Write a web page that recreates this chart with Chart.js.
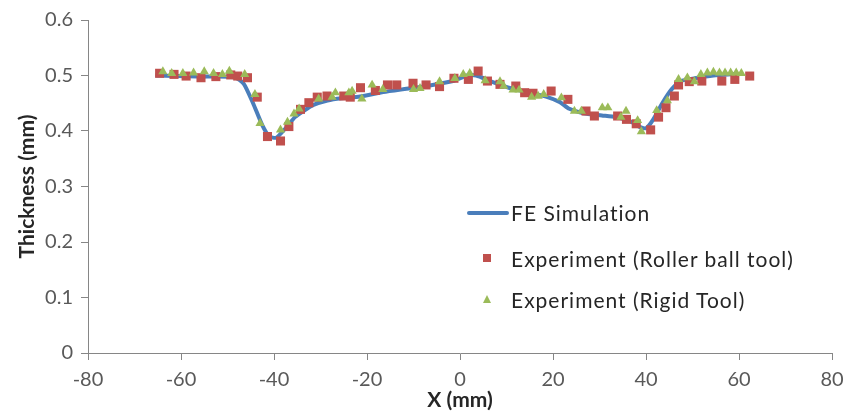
<!DOCTYPE html>
<html>
<head>
<meta charset="utf-8">
<script src="https://cdn.jsdelivr.net/npm/chart.js@4.4.1/dist/chart.umd.min.js"></script>
<style>
  body { margin: 0; background: #fff; }
  .wrap { position: relative; width: 859px; height: 415px; }
  .legend { position: absolute; left: 0; top: 0; font-family: Lato, sans-serif; font-size: 21px; line-height: 24px; letter-spacing: 1px; color: #262626; }
  .legend .item { position: absolute; white-space: nowrap; }
  .legend .line { position: absolute; left: 467px; top: 211px; width: 42px; height: 4px; background: #4a7ebb; border-radius: 2px; }
  .legend .sq { position: absolute; left: 483px; top: 254px; width: 8px; height: 8px; background: #c0504d; }
  .legend .tri { position: absolute; left: 483px; top: 295px; width: 0; height: 0;
    border-left: 4px solid transparent; border-right: 4px solid transparent; border-bottom: 8px solid #9bbb59; }
</style>
</head>
<body>
<div class="wrap">
  <canvas id="chartjs" width="859" height="415"></canvas>
  <div class="legend">
    <div class="line"></div>
    <div class="item" style="left:511px; top:201px;">FE Simulation</div>
    <div class="sq"></div>
    <div class="item" style="left:511px; top:247px;">Experiment (Roller ball tool)</div>
    <div class="tri"></div>
    <div class="item" style="left:511px; top:288px;">Experiment (Rigid Tool)</div>
  </div>
</div>
<script>
  // FE simulation curve
  let fe_x = [-65.5, -56.5, -48.5, -46.5, -44.5, -42.5, -41, -39.5, -37.5, -35.5, -33.5, -31.5, -28.5, -25.5, -21.5, -16.5, -11.5, -6.5, -1.5, 1.5, 3.5, 6.5, 10.5, 14.5, 18.5, 21.5, 23.5, 26.5, 30.5, 33.5, 36.5, 38.5, 40, 41.5, 43.5, 45.5, 47.5, 50.5, 54.5, 59.5];
  let fe_y = [0.500, 0.498, 0.497, 0.485, 0.450, 0.410, 0.390, 0.388, 0.405, 0.425, 0.437, 0.447, 0.455, 0.459, 0.462, 0.470, 0.476, 0.482, 0.490, 0.500, 0.500, 0.490, 0.478, 0.470, 0.462, 0.452, 0.440, 0.432, 0.428, 0.425, 0.418, 0.408, 0.405, 0.420, 0.450, 0.475, 0.490, 0.495, 0.500, 0.503];

  // Experiment (Roller ball tool)
  let roller_x = [-64.6, -61.5, -58.9, -55.7, -52.5, -49.3, -47.8, -45.7, -43.6, -41.4, -38.6, -36.8, -34.3, -32.5, -30.7, -28.6, -25.0, -23.6, -21.4, -18.2, -15.6, -13.6, -10.1, -7.3, -4.4, -1.3, 1.8, 3.9, 5.9, 8.6, 12.0, 13.9, 15.7, 19.6, 23.2, 27.1, 28.9, 33.9, 35.8, 37.9, 41.0, 42.7, 44.3, 46.1, 47.0, 49.3, 52.0, 56.3, 59.1, 62.3];
  let roller_y = [0.504, 0.502, 0.499, 0.496, 0.498, 0.501, 0.499, 0.496, 0.461, 0.390, 0.382, 0.408, 0.439, 0.451, 0.461, 0.463, 0.463, 0.461, 0.478, 0.473, 0.483, 0.483, 0.486, 0.483, 0.480, 0.495, 0.493, 0.508, 0.490, 0.484, 0.481, 0.469, 0.468, 0.472, 0.457, 0.436, 0.427, 0.427, 0.421, 0.413, 0.402, 0.425, 0.442, 0.463, 0.483, 0.489, 0.490, 0.490, 0.493, 0.499];

  // Experiment (Rigid Tool)
  let rigid_x = [-63.9, -62.0, -59.6, -57.3, -55.0, -53.0, -51.1, -49.6, -46.3, -44.1, -43.0, -38.6, -37.1, -35.7, -34.6, -30.4, -27.5, -26.8, -23.9, -23.2, -21.1, -18.9, -16.6, -10.0, -8.6, -4.4, -1.1, 0.7, 2.1, 5.4, 8.6, 9.4, 11.4, 12.7, 15.4, 16.8, 18.0, 21.8, 24.6, 26.1, 30.6, 31.8, 34.6, 35.7, 38.2, 39.0, 42.3, 44.6, 47.0, 48.9, 50.4, 51.8, 53.2, 54.5, 55.8, 57.0, 58.2, 59.4, 60.5];
  let rigid_y = [0.507, 0.504, 0.504, 0.505, 0.507, 0.504, 0.502, 0.508, 0.502, 0.466, 0.414, 0.402, 0.416, 0.431, 0.440, 0.458, 0.461, 0.469, 0.469, 0.472, 0.458, 0.483, 0.475, 0.475, 0.477, 0.489, 0.495, 0.502, 0.504, 0.491, 0.489, 0.481, 0.474, 0.474, 0.461, 0.463, 0.466, 0.460, 0.436, 0.436, 0.442, 0.442, 0.425, 0.436, 0.419, 0.399, 0.437, 0.455, 0.493, 0.496, 0.489, 0.502, 0.505, 0.506, 0.505, 0.505, 0.505, 0.505, 0.504];

  let x_ticks = [-80, -60, -40, -20, 0, 20, 40, 60, 80];
  let y_ticks = [0, 0.1, 0.2, 0.3, 0.4, 0.5, 0.6];

  function toPoints(xs, ys){
    let pts = [];
    for (let i = 0; i < xs.length; i++){
      pts.push({x: xs[i], y: ys[i]});
    }
    return pts;
  }

  const axisColor = '#868686';
  const tickFont = {family: 'Lato', size: 20};
  const titleFont = {family: 'Lato', size: 21, weight: 'bold', lineHeight: 1};

  const ctx = document.getElementById('chartjs');
  new Chart(ctx, {
    type: 'scatter',
    data: {
      datasets: [{
        label: 'FE Simulation',
        data: toPoints(fe_x, fe_y),
        showLine: true,
        borderColor: '#4a7ebb',
        borderWidth: 4,
        pointRadius: 0,
        tension: 0.2,
        order: 3
      }, {
        label: 'Experiment (Roller ball tool)',
        data: toPoints(roller_x, roller_y),
        pointStyle: 'rect',
        pointRadius: 6.4,
        backgroundColor: '#c0504d',
        borderColor: '#c0504d',
        borderWidth: 0,
        order: 2
      }, {
        label: 'Experiment (Rigid Tool)',
        data: toPoints(rigid_x, rigid_y),
        pointStyle: 'triangle',
        pointRadius: 5.3,
        backgroundColor: '#9bbb59',
        borderColor: '#9bbb59',
        borderWidth: 0,
        order: 1
      }]
    },
    options: {
      responsive: false,
      animation: false,
      devicePixelRatio: 1,
      layout: {
        padding: {left: 0, right: 27, top: 20, bottom: 0}
      },
      plugins: {
        legend: {display: false},
        tooltip: {enabled: false}
      },
      scales: {
        x: {
          type: 'linear',
          min: -80,
          max: 80,
          afterBuildTicks: function (axis){
            axis.ticks = x_ticks.map(function (v){ return {value: v}; });
          },
          afterFit: function (axis){ axis.height = 62; },
          grid: {display: true, drawOnChartArea: false, drawTicks: true, tickLength: 7, color: axisColor},
          border: {color: axisColor, width: 1},
          ticks: {color: '#595959', font: tickFont, padding: 8, maxRotation: 0},
          title: {display: true, text: 'X (mm)', color: '#262626', font: titleFont, padding: {top: 0, bottom: 4}}
        },
        y: {
          type: 'linear',
          min: 0,
          max: 0.6,
          afterBuildTicks: function (axis){
            axis.ticks = y_ticks.map(function (v){ return {value: v}; });
          },
          afterFit: function (axis){ axis.width = 88; },
          grid: {display: true, drawOnChartArea: false, drawTicks: true, tickLength: 7, color: axisColor},
          border: {color: axisColor, width: 1},
          ticks: {color: '#595959', font: tickFont, padding: 8},
          title: {display: true, text: 'Thickness (mm)', color: '#262626', font: titleFont, padding: {top: 17, bottom: 0}}
        }
      }
    }
  });
</script>
</body>
</html>
